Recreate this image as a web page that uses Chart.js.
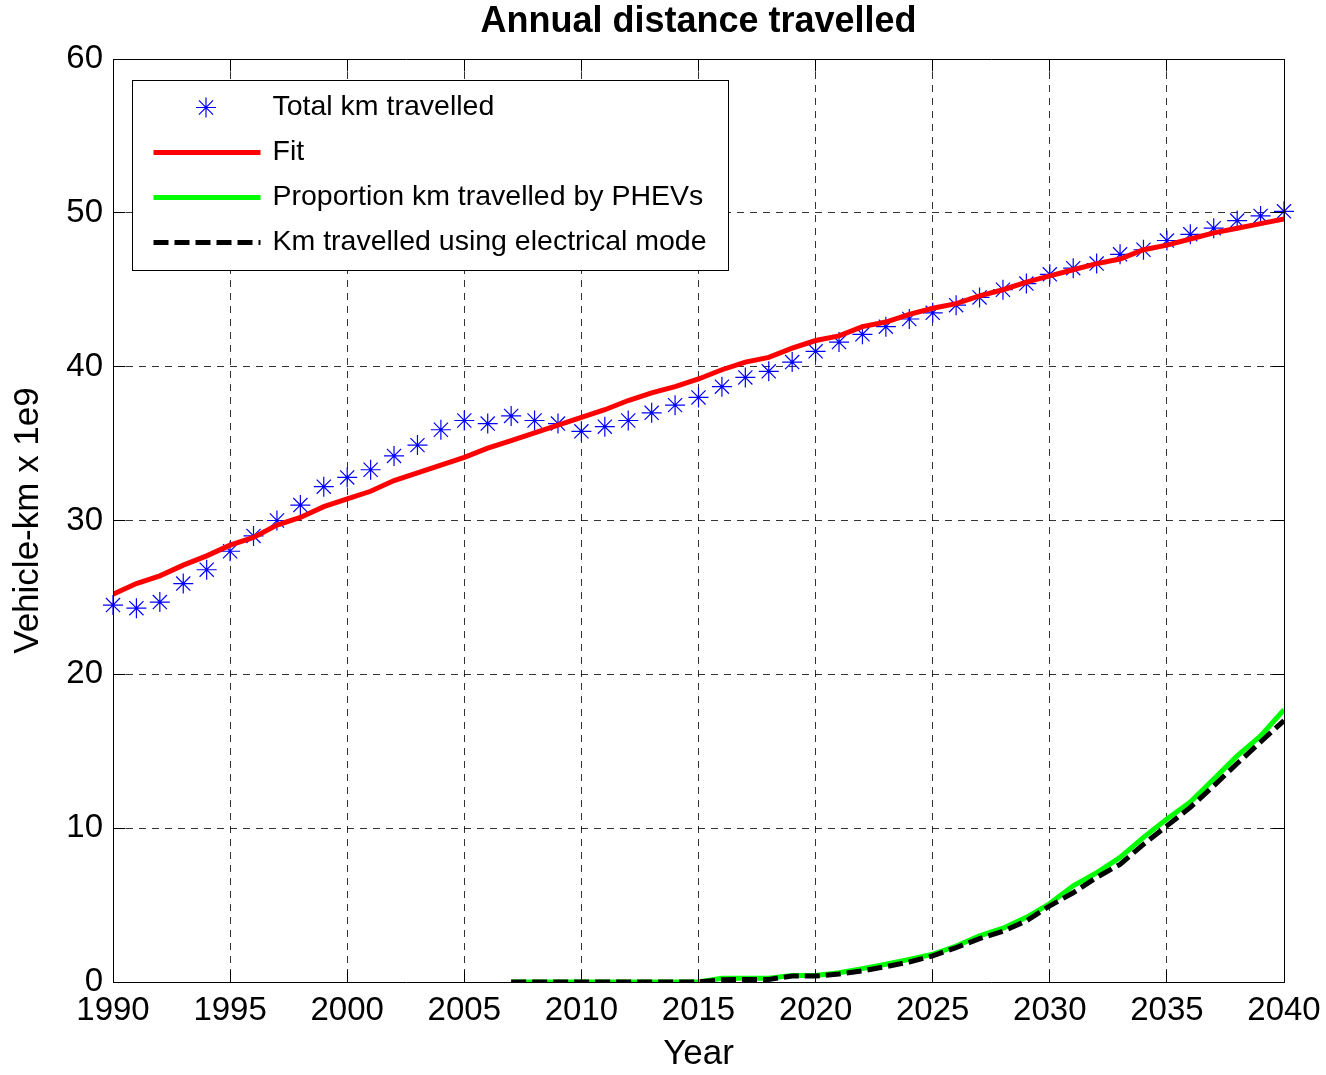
<!DOCTYPE html>
<html>
<head>
<meta charset="utf-8">
<title>Annual distance travelled</title>
<script src="https://cdn.jsdelivr.net/npm/chart.js@4/dist/chart.umd.min.js"></script>
<style>
body { margin: 0; background: #fff; }
canvas { display: block; }
</style>
</head>
<body>
<canvas id="dist_chart" width="1326" height="1075"></canvas>
<script>
// values (vehicle-km x 1e9)
var years = [1990,1991,1992,1993,1994,1995,1996,1997,1998,1999,
             2000,2001,2002,2003,2004,2005,2006,2007,2008,2009,
             2010,2011,2012,2013,2014,2015,2016,2017,2018,2019,
             2020,2021,2022,2023,2024,2025,2026,2027,2028,2029,
             2030,2031,2032,2033,2034,2035,2036,2037,2038,2039,2040];

var totalKm = [24.5,24.3,24.7,25.9,26.8,28.0,29.0,30.0,31.0,32.2,
               32.8,33.3,34.2,34.9,35.9,36.5,36.3,36.8,36.5,36.3,
               35.8,36.1,36.5,37.0,37.5,38.0,38.7,39.3,39.7,40.3,
               41.0,41.6,42.1,42.6,43.1,43.5,44.0,44.5,45.0,45.4,
               46.0,46.4,46.7,47.3,47.6,48.2,48.6,49.0,49.5,49.8,50.1];

var fitKm = [25.2,25.9,26.4,27.1,27.7,28.4,28.9,29.7,30.2,30.9,
             31.4,31.9,32.6,33.1,33.6,34.1,34.7,35.2,35.7,36.2,
             36.7,37.2,37.8,38.3,38.7,39.2,39.8,40.3,40.6,41.2,
             41.7,42.0,42.6,42.9,43.4,43.8,44.1,44.6,45.0,45.5,
             45.9,46.3,46.7,47.0,47.6,47.9,48.3,48.7,49.0,49.3,49.6];

var phevKm = [null,null,null,null,null,null,null,null,null,null,
              null,null,null,null,null,null,null,0,0,0,
              0,0,0,0,0,0,0.24,0.24,0.24,0.43,
              0.43,0.6,0.87,1.15,1.47,1.8,2.34,3.0,3.5,4.2,
              5.1,6.25,7.1,8.1,9.4,10.6,11.7,13.2,14.7,16.0,17.7];

var electricKm = [null,null,null,null,null,null,null,null,null,null,
                  null,null,null,null,null,null,null,0,0,0,
                  0,0,0,0,0,0,0.15,0.17,0.17,0.39,
                  0.39,0.52,0.72,1.0,1.3,1.7,2.23,2.82,3.3,3.97,
                  4.95,5.8,6.8,7.65,8.95,10.15,11.35,12.75,14.2,15.6,17.0];

var xTicks = [1990,1995,2000,2005,2010,2015,2020,2025,2030,2035,2040];
var yTicks = [0,10,20,30,40,50,60];

var chartTitle = 'Annual distance travelled';

var FONT = '"Liberation Sans", Arial, Helvetica, sans-serif';

function toPoints(arr) {
    var pts = [];
    for (var i = 0; i < years.length; i++) {
        if (arr[i] !== null) pts.push({x: years[i], y: arr[i]});
    }
    return pts;
}

// same rounding chart.js uses for crisp 1px lines
function crisp(v) { return Math.round(v - 0.5) + 0.5; }

// title centred over the axes, not the whole canvas
const axesTitle = {
    id: 'axesTitle',
    afterDraw(chart) {
        const ctx = chart.ctx;
        const a = chart.chartArea;
        ctx.save();
        ctx.fillStyle = '#000';
        ctx.font = 'bold 36px ' + FONT;
        ctx.textAlign = 'center';
        ctx.textBaseline = 'middle';
        ctx.fillText(chartTitle, (a.left + a.right) / 2, 22);
        ctx.restore();
    }
};

// matlab-like box with inward ticks on all four sides
const plotFrame = {
    id: 'plotFrame',
    afterDraw(chart) {
        const ctx = chart.ctx;
        const a = chart.chartArea;
        const L = crisp(a.left), R = crisp(a.right), T = crisp(a.top), B = crisp(a.bottom);
        const tl = 12;
        ctx.save();
        ctx.strokeStyle = '#000';
        ctx.lineWidth = 1;
        ctx.setLineDash([]);
        ctx.beginPath();
        ctx.rect(L, T, R - L, B - T);
        xTicks.forEach(function (v) {
            const px = crisp(chart.scales.x.getPixelForValue(v));
            ctx.moveTo(px, B); ctx.lineTo(px, B - tl);
            ctx.moveTo(px, T); ctx.lineTo(px, T + tl);
        });
        yTicks.forEach(function (v) {
            const py = crisp(chart.scales.y.getPixelForValue(v));
            ctx.moveTo(L, py); ctx.lineTo(L + tl, py);
            ctx.moveTo(R, py); ctx.lineTo(R - tl, py);
        });
        ctx.stroke();
        ctx.restore();
    }
};

// legend box drawn inside the plot, top-left
const innerLegend = {
    id: 'innerLegend',
    afterDraw(chart) {
        const ctx = chart.ctx;
        const a = chart.chartArea;
        const bx = crisp(a.left + 19), by = crisp(a.top + 21);
        const bw = 596, bh = 190;
        ctx.save();
        ctx.fillStyle = '#fff';
        ctx.fillRect(bx, by, bw, bh);
        ctx.strokeStyle = '#000';
        ctx.lineWidth = 1;
        ctx.strokeRect(bx, by, bw, bh);

        chart.data.datasets.forEach(function (ds, i) {
            const y = by + 27 + i * 45;
            const x0 = bx + 21, x1 = bx + 128;
            ctx.save();
            ctx.strokeStyle = ds.borderColor;
            if (ds.showLine === false) {
                const cx = (x0 + x1) / 2 - 1, r = 10, d = r * Math.SQRT1_2;
                ctx.lineWidth = 1.2;
                ctx.beginPath();
                ctx.moveTo(cx - r, y); ctx.lineTo(cx + r, y);
                ctx.moveTo(cx, y - r); ctx.lineTo(cx, y + r);
                ctx.moveTo(cx - d, y - d); ctx.lineTo(cx + d, y + d);
                ctx.moveTo(cx - d, y + d); ctx.lineTo(cx + d, y - d);
                ctx.stroke();
            } else {
                ctx.lineWidth = ds.borderWidth;
                ctx.setLineDash(ds.borderDash || []);
                ctx.beginPath();
                ctx.moveTo(x0, y); ctx.lineTo(x1, y);
                ctx.stroke();
            }
            ctx.restore();
            ctx.fillStyle = '#000';
            ctx.font = '28.5px ' + FONT;
            ctx.textBaseline = 'middle';
            ctx.textAlign = 'left';
            ctx.fillText(ds.label, bx + 140, y);
        });
        ctx.restore();
    }
};

const data = {
    datasets: [{
        label: 'Total km travelled',
        data: toPoints(totalKm),
        showLine: false,
        clip: false,
        pointStyle: 'star',
        pointRadius: 10,
        pointBorderWidth: 1.2,
        borderColor: 'rgb(0,0,255)',
        backgroundColor: 'rgb(0,0,255)',
        order: 3
    }, {
        label: 'Fit',
        data: toPoints(fitKm),
        borderColor: 'rgb(255,0,0)',
        borderWidth: 5,
        pointRadius: 0,
        tension: 0,
        order: 2
    }, {
        label: 'Proportion km travelled by PHEVs',
        data: toPoints(phevKm),
        borderColor: 'rgb(0,255,0)',
        borderWidth: 5,
        pointRadius: 0,
        tension: 0,
        order: 1
    }, {
        label: 'Km travelled using electrical mode',
        data: toPoints(electricKm),
        borderColor: 'rgb(0,0,0)',
        borderWidth: 5,
        borderDash: [15, 6],
        borderCapStyle: 'butt',
        pointRadius: 0,
        tension: 0,
        order: 0
    }]
};

const gridStyle = { color: 'rgba(0,0,0,0.8)', lineWidth: 1, drawTicks: false };

const config = {
    type: 'line',
    data: data,
    options: {
        responsive: false,
        animation: false,
        devicePixelRatio: 1,
        layout: { padding: { left: 0, right: 42, top: 59, bottom: 0 } },
        plugins: {
            legend: { display: false },
            tooltip: { enabled: false },
            title: { display: false }
        },
        scales: {
            x: {
                type: 'linear',
                min: 1990, max: 2040,
                grid: gridStyle,
                border: { display: false, dash: [7, 6] },
                afterBuildTicks: function (s) { s.ticks = xTicks.map(function (v) { return {value: v}; }); },
                afterFit: function (s) {
                    s.height = 93;
                    s.paddingLeft = 0;
                    s.paddingRight = 0;
                },
                ticks: {
                    color: '#000',
                    padding: 9,
                    maxRotation: 0,
                    autoSkip: false,
                    font: { family: FONT, size: 33 },
                    callback: function (v) { return String(v); }
                },
                title: {
                    display: true,
                    text: 'Year',
                    color: '#000',
                    font: { family: FONT, size: 35, lineHeight: 1.2 },
                    padding: { top: 0, bottom: 0 }
                }
            },
            y: {
                type: 'linear',
                min: 0, max: 60,
                grid: gridStyle,
                border: { display: false, dash: [7, 6] },
                afterBuildTicks: function (s) { s.ticks = yTicks.map(function (v) { return {value: v}; }); },
                afterFit: function (s) {
                    s.width = 113;
                    s.paddingTop = 0;
                    s.paddingBottom = 0;
                },
                ticks: {
                    color: '#000',
                    padding: 10,
                    font: { family: FONT, size: 33 },
                    callback: function (v) { return String(v); }
                },
                title: {
                    display: true,
                    text: 'Vehicle-km x 1e9',
                    color: '#000',
                    font: { family: FONT, size: 35, lineHeight: 1.2 },
                    padding: { top: 7, bottom: 0 }
                }
            }
        }
    },
    plugins: [plotFrame, innerLegend, axesTitle]
};

var chart = new Chart(document.getElementById('dist_chart'), config);
</script>
</body>
</html>
